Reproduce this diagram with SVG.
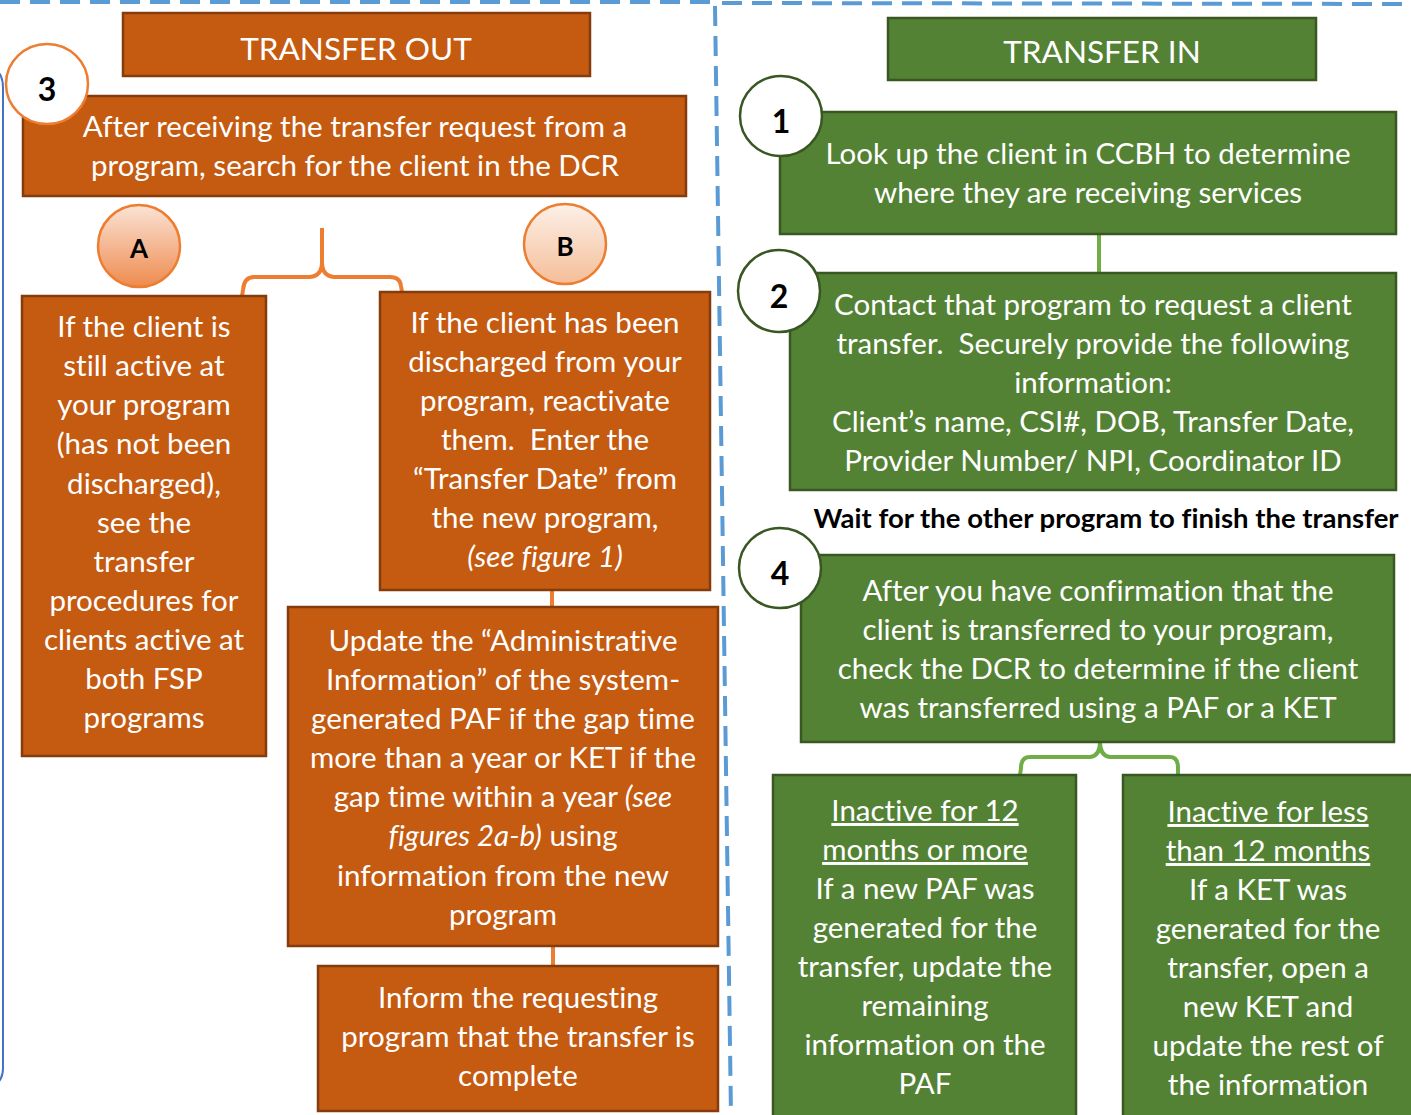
<svg xmlns="http://www.w3.org/2000/svg" width="1411" height="1115" viewBox="0 0 1411 1115">
<defs>
<linearGradient id="gA" x1="0" y1="0" x2="0" y2="1"><stop offset="0" stop-color="#FBE3D6"/><stop offset="1" stop-color="#EE8B4E"/></linearGradient>
<linearGradient id="gB" x1="0" y1="0" x2="0" y2="1"><stop offset="0" stop-color="#FDF0E8"/><stop offset="1" stop-color="#F4BE98"/></linearGradient>
<style>
text{font-variant-ligatures:none}
.o{fill:#C55A11;stroke:#843C0C;stroke-width:2.5}
.g{fill:#548235;stroke:#385723;stroke-width:2.5}
.t{font-family:Lato,"Open Sans","Liberation Sans",sans-serif;font-size:29.5px;fill:#fff;text-anchor:middle}
.h{font-size:31.5px}
.n{font-family:Lato,"Liberation Sans",sans-serif;font-size:32px;font-weight:bold;fill:#000;text-anchor:middle}
.co{fill:#fff;stroke:#ED7D31;stroke-width:2.5}
.cg{fill:#fff;stroke:#385723;stroke-width:2.5}
.lo{fill:none;stroke:#ED7D31;stroke-width:4}
.lg{fill:none;stroke:#70AD47;stroke-width:4}
.d{fill:none;stroke:#5B9BD5;stroke-width:4;stroke-dasharray:20 10}
</style>
</defs>
<rect width="1411" height="1115" fill="#fff"/>
<g id="borders">
<path class="d" d="M0 2 L716 2"/>
<path class="d" d="M722 3 L1411 4"/>
<path class="d" d="M715 6 L731 1115"/>
<path d="M-10 68 Q3 70 3 88 L3 1068 Q3 1082 -8 1086" fill="none" stroke="#4472C4" stroke-width="2"/>
</g>
<g id="connectors">
<path class="lo" d="M322 228 L322 262 Q322 276 310 277 L254 277 Q244 277 243 290 L242 296"/>
<path class="lo" d="M322 262 Q322 276 334 277 L390 277 Q400 277 401 286 L402 292"/>
<path class="lo" d="M552 590 L552 607"/>
<path class="lo" d="M553 946 L553 966"/>
<path class="lg" d="M1099 234 L1099 273"/>
<path class="lg" d="M1100 742 Q1100 756 1090 757 L1030 757 Q1021 757 1021 768 L1020 775"/>
<path class="lg" d="M1100 742 Q1100 756 1110 757 L1170 757 Q1178 757 1178 768 L1178 775"/>
</g>
<g id="transfer-out">
<rect class="o" x="123" y="13" width="467" height="63"/>
<text class="t h" x="356" y="60">TRANSFER OUT</text>
</g>
<g id="step3">
<rect class="o" x="23" y="96" width="663" height="100"/>
<text class="t" x="355" y="137">After receiving the transfer request from a</text>
<text class="t" x="355" y="176">program, search for the client in the DCR</text>
<ellipse class="co" cx="47" cy="84" rx="41" ry="40"/>
<text class="n" x="47" y="101">3</text>
</g>
<g id="circleA">
<ellipse cx="139" cy="246" rx="41" ry="41" fill="url(#gA)" stroke="#ED7D31" stroke-width="2.5"/>
<text class="n" x="139" y="258" style="font-size:26px">A</text>
</g>
<g id="circleB">
<ellipse cx="565" cy="244" rx="41" ry="40" fill="url(#gB)" stroke="#ED7D31" stroke-width="2.5"/>
<text class="n" x="565" y="256" style="font-size:26px">B</text>
</g>
<g id="boxA">
<rect class="o" x="22" y="296" width="244" height="460"/>
<text class="t" x="144" y="337">If the client is</text>
<text class="t" x="144" y="376">still active at</text>
<text class="t" x="144" y="415">your program</text>
<text class="t" x="144" y="454">(has not been</text>
<text class="t" x="144" y="494">discharged),</text>
<text class="t" x="144" y="533">see the</text>
<text class="t" x="144" y="572">transfer</text>
<text class="t" x="144" y="611">procedures for</text>
<text class="t" x="144" y="650">clients active at</text>
<text class="t" x="144" y="689">both FSP</text>
<text class="t" x="144" y="728">programs</text>
</g>
<g id="boxB">
<rect class="o" x="380" y="292" width="330" height="298"/>
<text class="t" x="545" y="333">If the client has been</text>
<text class="t" x="545" y="372">discharged from your</text>
<text class="t" x="545" y="411">program, reactivate</text>
<text class="t" x="545" y="450" xml:space="preserve">them.  Enter the</text>
<text class="t" x="545" y="489">“Transfer Date” from</text>
<text class="t" x="545" y="528">the new program,</text>
<text class="t" x="545" y="567" font-style="italic">(see figure 1)</text>
</g>
<g id="update">
<rect class="o" x="288" y="607" width="430" height="339"/>
<text class="t" x="503" y="651">Update the “Administrative</text>
<text class="t" x="503" y="690">Information” of the system-</text>
<text class="t" x="503" y="729">generated PAF if the gap time</text>
<text class="t" x="503" y="768">more than a year or KET if the</text>
<text class="t" x="503" y="807">gap time within a year <tspan font-style="italic">(see</tspan></text>
<text class="t" x="503" y="846"><tspan font-style="italic">figures 2a-b)</tspan> using</text>
<text class="t" x="503" y="886">information from the new</text>
<text class="t" x="503" y="925">program</text>
</g>
<g id="inform">
<rect class="o" x="318" y="966" width="400" height="145"/>
<text class="t" x="518" y="1008">Inform the requesting</text>
<text class="t" x="518" y="1047">program that the transfer is</text>
<text class="t" x="518" y="1086">complete</text>
</g>
<g id="transfer-in">
<rect class="g" x="888" y="18" width="428" height="62"/>
<text class="t h" x="1102" y="63">TRANSFER IN</text>
</g>
<g id="step1">
<rect class="g" x="780" y="112" width="616" height="122"/>
<text class="t" x="1088" y="164">Look up the client in CCBH to determine</text>
<text class="t" x="1088" y="203">where they are receiving services</text>
<ellipse class="cg" cx="781" cy="116" rx="41" ry="40"/>
<text class="n" x="781" y="133">1</text>
</g>
<g id="step2">
<rect class="g" x="790" y="273" width="606" height="217"/>
<text class="t" x="1093" y="315">Contact that program to request a client</text>
<text class="t" x="1093" y="354" xml:space="preserve">transfer.  Securely provide the following</text>
<text class="t" x="1093" y="393">information:</text>
<text class="t" x="1093" y="432">Client’s name, CSI#, DOB, Transfer Date,</text>
<text class="t" x="1093" y="471">Provider Number/ NPI, Coordinator ID</text>
<ellipse class="cg" cx="779" cy="291" rx="41" ry="41"/>
<text class="n" x="779" y="308">2</text>
</g>
<g id="wait">
<text x="1106" y="528" style="font-family:Lato,'Liberation Sans',sans-serif;font-size:27.5px;font-weight:bold;fill:#000;text-anchor:middle">Wait for the other program to finish the transfer</text>
</g>
<g id="step4">
<rect class="g" x="801" y="555" width="593" height="187"/>
<text class="t" x="1098" y="601">After you have confirmation that the</text>
<text class="t" x="1098" y="640">client is transferred to your program,</text>
<text class="t" x="1098" y="679">check the DCR to determine if the client</text>
<text class="t" x="1098" y="718">was transferred using a PAF or a KET</text>
<ellipse class="cg" cx="780" cy="568" rx="41" ry="40"/>
<text class="n" x="780" y="585">4</text>
</g>
<g id="inactive12">
<rect class="g" x="773" y="775" width="303" height="350"/>
<text class="t" x="925" y="821" text-decoration="underline">Inactive for 12</text>
<text class="t" x="925" y="860" text-decoration="underline">months or more</text>
<text class="t" x="925" y="899">If a new PAF was</text>
<text class="t" x="925" y="938">generated for the</text>
<text class="t" x="925" y="977">transfer, update the</text>
<text class="t" x="925" y="1016">remaining</text>
<text class="t" x="925" y="1055">information on the</text>
<text class="t" x="925" y="1094">PAF</text>
</g>
<g id="inactiveLess">
<rect class="g" x="1123" y="775" width="300" height="350"/>
<text class="t" x="1268" y="822" text-decoration="underline">Inactive for less</text>
<text class="t" x="1268" y="861" text-decoration="underline">than 12 months</text>
<text class="t" x="1268" y="900">If a KET was</text>
<text class="t" x="1268" y="939">generated for the</text>
<text class="t" x="1268" y="978">transfer, open a</text>
<text class="t" x="1268" y="1017">new KET and</text>
<text class="t" x="1268" y="1056">update the rest of</text>
<text class="t" x="1268" y="1095">the information</text>
</g>
</svg>
